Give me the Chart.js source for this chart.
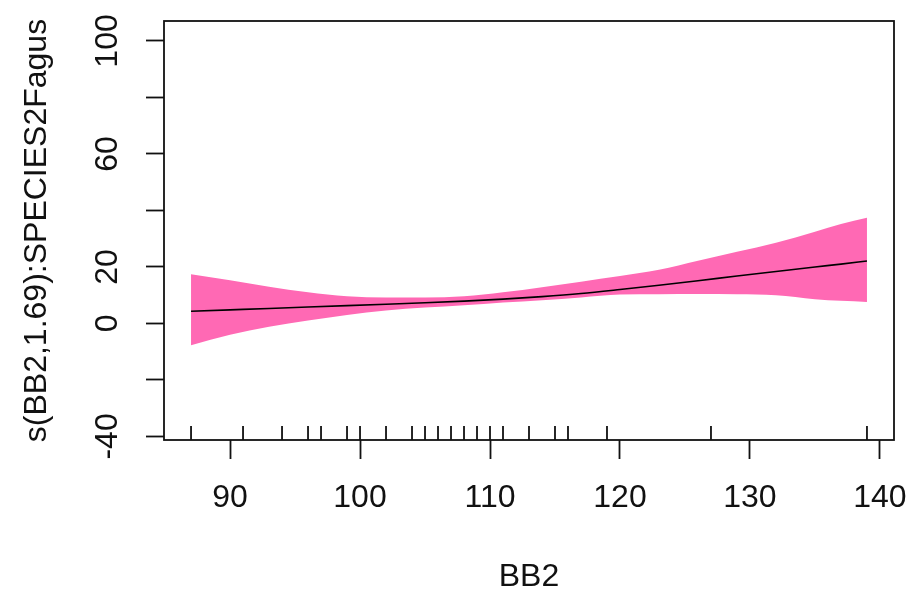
<!DOCTYPE html>
<html>
<head>
<meta charset="utf-8">
<script src="https://cdn.jsdelivr.net/npm/chart.js@4"></script>
<style>
  html, body { margin: 0; padding: 0; background: #fff; }
  #wrap { width: 911px; height: 596px; }
</style>
</head>
<body>
<div id="wrap"><canvas id="chart" width="911" height="596"></canvas></div>
<script>
// smooth term s(BB2,1.69):SPECIES2Fagus
const bb2 = [87, 90, 93, 96, 99, 102, 105, 108, 111, 114, 117, 120, 123, 126, 129, 132, 135, 137, 139];
const fit = [4.3, 4.8, 5.3, 5.8, 6.3, 6.8, 7.3, 7.9, 8.6, 9.5, 10.6, 12.0, 13.5, 15.1, 16.8, 18.4, 20.0, 21.0, 22.1];
const upper = [17.4, 15.3, 13.0, 11.0, 9.6, 9.2, 9.2, 9.6, 11.0, 12.8, 14.8, 16.8, 19.0, 22.2, 25.4, 28.6, 32.5, 35.2, 37.4];
const lower = [-7.7, -4.0, -1.2, 1.0, 3.0, 4.6, 5.6, 6.4, 7.4, 8.2, 9.2, 10.2, 10.3, 10.4, 10.3, 10.0, 8.6, 8.0, 7.6];

// rug of observed BB2 values
const rugX = [87, 91, 94, 96, 97, 99, 100, 102, 104, 105, 106, 107, 108, 109, 110, 111, 113, 115, 116, 119, 127, 139];

const xTicks = [90, 100, 110, 120, 130, 140];
const yTicks = [-40, -20, 0, 20, 40, 60, 80, 100];
const yTickLabels = [-40, 0, 20, 60, 100]; // R drops the ones that would overlap

const FONT = "'Liberation Sans', Arial, sans-serif";
const INK = '#111';

const toPts = (ys) => bb2.map((x, i) => ({ x: x, y: ys[i] }));

// box around the plot region, rug ticks and rotated y labels like base R
const rPlot = {
  id: 'rPlot',
  afterDatasetsDraw(chart) {
    const { ctx, chartArea, scales } = chart;
    ctx.save();
    ctx.strokeStyle = INK;
    ctx.lineWidth = 1.8;
    ctx.strokeRect(chartArea.left, chartArea.top, chartArea.right - chartArea.left, chartArea.bottom - chartArea.top);

    ctx.beginPath();
    rugX.forEach(v => {
      const px = scales.x.getPixelForValue(v);
      ctx.moveTo(px, chartArea.bottom);
      ctx.lineTo(px, chartArea.bottom - 14);
    });
    ctx.stroke();
    ctx.restore();
  },
  afterDraw(chart) {
    const { ctx, chartArea, scales } = chart;
    ctx.save();
    ctx.fillStyle = INK;
    ctx.font = '32px ' + FONT;
    ctx.textAlign = 'center';
    ctx.textBaseline = 'middle';
    yTickLabels.forEach(v => {
      ctx.save();
      ctx.translate(chartArea.left - 56, scales.y.getPixelForValue(v));
      ctx.rotate(-Math.PI / 2);
      ctx.fillText(String(v), 0, 0);
      ctx.restore();
    });
    ctx.restore();
  }
};

new Chart(document.getElementById('chart'), {
  type: 'line',
  data: {
    datasets: [
      {
        label: 'fit',
        data: toPts(fit),
        borderColor: '#000',
        borderWidth: 1.6,
        pointRadius: 0,
        cubicInterpolationMode: 'monotone',
        fill: false
      },
      {
        label: 'upper',
        data: toPts(upper),
        borderWidth: 0,
        borderColor: 'rgba(0,0,0,0)',
        backgroundColor: '#FF69B4',
        pointRadius: 0,
        cubicInterpolationMode: 'monotone',
        fill: '+1'
      },
      {
        label: 'lower',
        data: toPts(lower),
        borderWidth: 0,
        borderColor: 'rgba(0,0,0,0)',
        pointRadius: 0,
        cubicInterpolationMode: 'monotone',
        fill: false
      }
    ]
  },
  options: {
    responsive: false,
    animation: false,
    layout: { padding: { left: 0, right: 17, top: 21, bottom: 0 } },
    plugins: {
      legend: { display: false },
      tooltip: { enabled: false }
    },
    scales: {
      x: {
        type: 'linear',
        min: 84.92,
        max: 141.08,
        afterFit: (scale) => {
          scale.height = 156;
          scale.paddingLeft = 0;
          scale.paddingRight = 0;
        },
        afterBuildTicks: (scale) => { scale.ticks = xTicks.map(v => ({ value: v })); },
        border: { display: false },
        grid: {
          drawOnChartArea: false,
          drawTicks: true,
          tickLength: 19,
          tickWidth: 1.8,
          tickColor: INK
        },
        ticks: {
          color: INK,
          font: { family: FONT, size: 32 },
          padding: 20,
          maxRotation: 0,
          autoSkip: false
        },
        title: {
          display: true,
          text: 'BB2',
          color: INK,
          font: { family: FONT, size: 32 },
          padding: { top: 0, bottom: 0 }
        }
      },
      y: {
        type: 'linear',
        min: -41.27,
        max: 107.07,
        afterFit: (scale) => {
          scale.width = 164;
          scale.paddingTop = 0;
          scale.paddingBottom = 0;
        },
        afterBuildTicks: (scale) => { scale.ticks = yTicks.map(v => ({ value: v })); },
        border: { display: false },
        grid: {
          drawOnChartArea: false,
          drawTicks: true,
          tickLength: 18,
          tickWidth: 1.8,
          tickColor: INK
        },
        ticks: { display: false },
        title: {
          display: true,
          text: 's(BB2,1.69):SPECIES2Fagus',
          color: INK,
          font: { family: FONT, size: 32 },
          padding: { top: 18, bottom: 0 }
        }
      }
    }
  },
  plugins: [rPlot]
});
</script>
</body>
</html>
